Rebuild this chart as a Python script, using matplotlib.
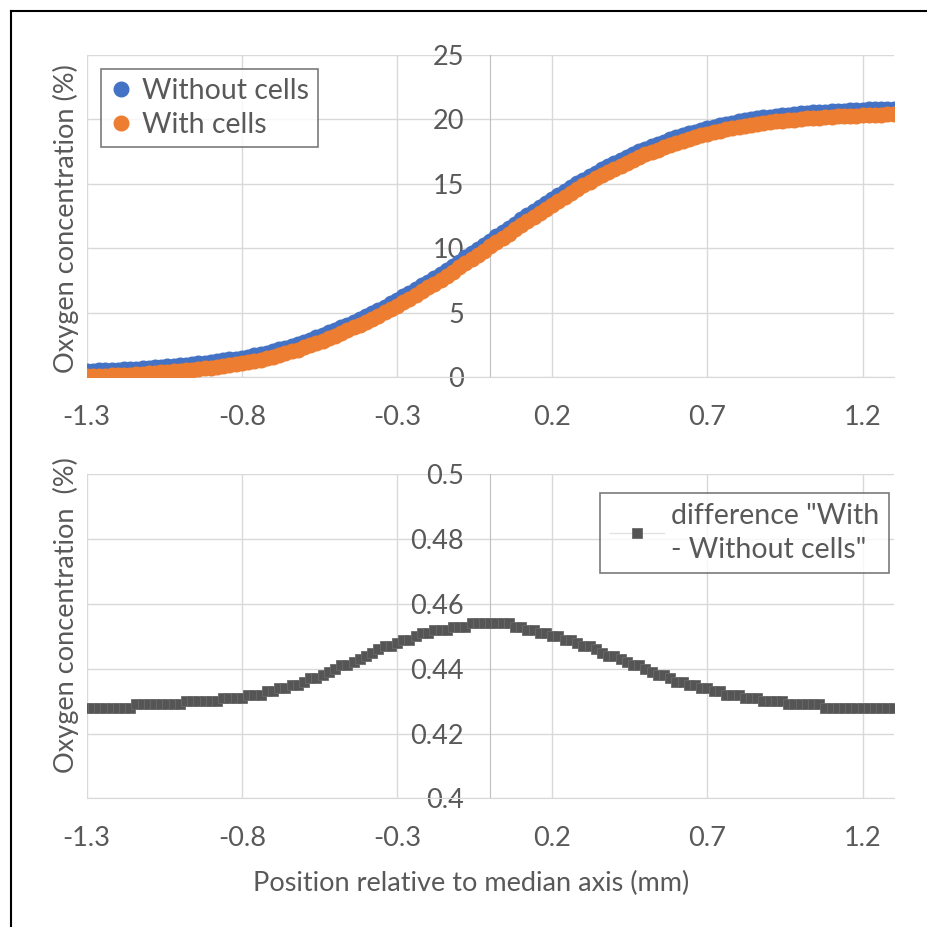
import numpy as np
import matplotlib.pyplot as plt
from matplotlib.lines import Line2D

plt.rcParams['font.family'] = ['Lato', 'DejaVu Sans']

# Positions (mm), 0.02 mm steps
position = np.round(np.linspace(-1.3, 1.3, 131), 2)

# Oxygen concentration (%) without cells
without_cells = [
    0.47, 0.49, 0.51, 0.53, 0.55, 0.57, 0.59, 0.62, 0.65, 0.68,
    0.71, 0.75, 0.78, 0.82, 0.86, 0.90, 0.95, 1.00, 1.05, 1.10,
    1.16, 1.22, 1.29, 1.36, 1.43, 1.51,
    1.59, 1.69, 1.79, 1.89, 2.01,
    2.14, 2.27, 2.42, 2.57, 2.74,
    2.91, 3.09, 3.27, 3.46, 3.66,
    3.86, 4.07, 4.29, 4.51, 4.74,
    4.97, 5.21, 5.46, 5.72, 5.99,
    6.26, 6.54, 6.82, 7.11, 7.41,
    7.71, 8.02, 8.33, 8.64, 8.96,
    9.28, 9.60, 9.93, 10.26, 10.59,
    10.92, 11.25, 11.58, 11.91, 12.24,
    12.57, 12.89, 13.21, 13.53, 13.84,
    14.15, 14.45, 14.74, 15.03, 15.32,
    15.59, 15.86, 16.12, 16.37, 16.62,
    16.85, 17.08, 17.30, 17.51, 17.72,
    17.91, 18.10, 18.28, 18.45, 18.62,
    18.77, 18.92, 19.06, 19.19, 19.32,
    19.43, 19.54, 19.65, 19.75, 19.84,
    19.93, 20.01, 20.08, 20.15, 20.22,
    20.27, 20.33, 20.38, 20.42, 20.47,
    20.50, 20.54, 20.57, 20.60, 20.63,
    20.66, 20.68, 20.70, 20.72, 20.75,
    20.77, 20.78, 20.80, 20.82, 20.84,
]

# difference between the two curves (%)
difference = [
    0.428, 0.428, 0.428, 0.428, 0.428, 0.428, 0.428, 0.428, 0.429, 0.429,
    0.429, 0.429, 0.429, 0.429, 0.429, 0.429, 0.430, 0.430, 0.430, 0.430,
    0.430, 0.430, 0.431, 0.431, 0.431, 0.431, 0.432, 0.432, 0.432, 0.433,
    0.433, 0.434, 0.434, 0.435, 0.435, 0.436, 0.437, 0.437, 0.438, 0.439,
    0.440, 0.441, 0.441, 0.442, 0.443, 0.444, 0.445, 0.446, 0.447, 0.447,
    0.448, 0.449, 0.449, 0.450, 0.451, 0.451, 0.452, 0.452, 0.452, 0.453,
    0.453, 0.453, 0.454, 0.454, 0.454, 0.454, 0.454, 0.454, 0.454, 0.453,
    0.453, 0.452, 0.452, 0.451, 0.451, 0.450, 0.450, 0.449, 0.449, 0.448,
    0.447, 0.447, 0.446, 0.445, 0.444, 0.444, 0.443, 0.442, 0.441, 0.441,
    0.440, 0.439, 0.438, 0.438, 0.437, 0.436, 0.436, 0.435, 0.435, 0.434,
    0.434, 0.433, 0.433, 0.432, 0.432, 0.432, 0.431, 0.431, 0.431, 0.430,
    0.430, 0.430, 0.430, 0.429, 0.429, 0.429, 0.429, 0.429, 0.429, 0.428,
    0.428, 0.428, 0.428, 0.428, 0.428, 0.428, 0.428, 0.428, 0.428, 0.428,
    0.428,
]

# the "with cells" curve sits below by the difference shown in the lower panel
with_cells = [w - d for w, d in zip(without_cells, difference)]

x_ticks = [-1.3, -0.8, -0.3, 0.2, 0.7, 1.2]
x_labels = ['-1.3', '-0.8', '-0.3', '0.2', '0.7', '1.2']
top_ticks = [0, 5, 10, 15, 20, 25]
bottom_ticks = [0.4, 0.42, 0.44, 0.46, 0.48, 0.5]
bottom_labels = ['0.4', '0.42', '0.44', '0.46', '0.48', '0.5']

TXT = '#595959'
GRID = '#d9d9d9'
FS = 19.5
LFS = 20.5

fig = plt.figure(figsize=(9.27, 9.27), dpi=100)
W = 927.0


def px_axes(left, top, right, bottom):
    return fig.add_axes([left / W, 1 - bottom / W, (right - left) / W, (bottom - top) / W])


def style(ax, yticks, ylabels):
    ax.set_xlim(-1.3, 1.3)
    ax.set_ylim(yticks[0], yticks[-1])
    ax.set_xticks(x_ticks)
    ax.set_xticklabels(x_labels)
    ax.set_yticks(yticks)
    ax.set_yticklabels(ylabels)
    ax.grid(True, color=GRID, lw=1)
    ax.set_axisbelow(True)
    for s in ['top', 'right']:
        ax.spines[s].set_visible(False)
    ax.spines['left'].set_position(('data', 0))
    ax.spines['left'].set_color('#bfbfbf')
    ax.spines['bottom'].set_color(GRID)
    ax.tick_params(axis='both', length=0, labelsize=FS, labelcolor=TXT)
    ax.tick_params(axis='x', pad=20)
    ax.tick_params(axis='y', pad=19)


# top panel
ax1 = px_axes(86.7, 55, 893.7, 377)
style(ax1, top_ticks, [str(t) for t in top_ticks])
ax1.plot(position, without_cells, 'o', color='#4472C4', ms=10.5, mec='#4472C4',
         label='Without cells', zorder=3)
ax1.plot(position, with_cells, 'o', color='#ED7D31', ms=10.5, mec='#ED7D31',
         label='With cells', zorder=4)
leg1 = ax1.legend(loc='upper left', bbox_to_anchor=(100.7 / W, 1 - 69.3 / W),
                  bbox_transform=fig.transFigure, fontsize=LFS, frameon=True,
                  fancybox=False, edgecolor='#595959', handlelength=0.8,
                  handletextpad=0.35, borderaxespad=0, labelspacing=0.3,
                  borderpad=0.3)
leg1.get_frame().set_linewidth(1.2)
for t in leg1.get_texts():
    t.set_color(TXT)

# bottom panel
ax2 = px_axes(86.7, 474.3, 893.7, 798.3)
style(ax2, bottom_ticks, bottom_labels)
ax2.plot(position, difference, 's', ls='-', color='#e3e3e3', lw=1,
         mfc='#555555', mec='#6a6a6a', ms=6.5, mew=0.6,
         label='difference "With\n- Without cells"', zorder=3)
leg2 = ax2.legend(loc='upper left', bbox_to_anchor=(600 / W, 1 - 493.3 / W),
                  bbox_transform=fig.transFigure, fontsize=LFS, frameon=True,
                  fancybox=False, edgecolor='#595959', handlelength=1.9,
                  handletextpad=0.25, borderaxespad=0, borderpad=0.35)
leg2.get_frame().set_linewidth(1.2)
for t in leg2.get_texts():
    t.set_color(TXT)
    t.set_linespacing(1.35)

# axis titles
fig.text(66 / W, 1 - 219 / W, 'Oxygen concentration (%)', rotation=90,
         ha='center', va='center', fontsize=FS, color=TXT)
fig.text(66 / W, 1 - 615 / W, 'Oxygen concentration  (%)', rotation=90,
         ha='center', va='center', fontsize=FS, color=TXT)
fig.text(471 / W, 1 - 883 / W, 'Position relative to median axis (mm)',
         ha='center', va='center', fontsize=FS, color=TXT)

# black frame on the top and left
fig.add_artist(Line2D([11 / W, 11 / W], [0, 1 - 11 / W], color='black', lw=1.5,
                      transform=fig.transFigure))
fig.add_artist(Line2D([11 / W, 1], [1 - 11 / W, 1 - 11 / W], color='black', lw=1.5,
                      transform=fig.transFigure))

fig.savefig('out.png', dpi=100)
